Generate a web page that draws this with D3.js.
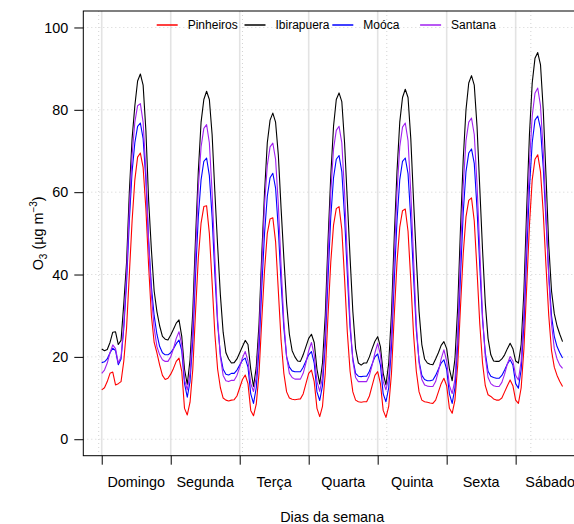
<!DOCTYPE html>
<html>
<head>
<meta charset="utf-8">
<script src="https://cdn.jsdelivr.net/npm/d3@7"></script>
<style>
  body { margin: 0; background: #fff; }
  text { font-family: "Liberation Sans", Arial, sans-serif; }
</style>
</head>
<body>
<svg id="chart" width="574" height="524"></svg>
<script>
// hourly means (0..167, Sunday 00h to Saturday 23h)
const pinheiros = [
  12.0, 12.5, 14.0, 16.0, 16.3, 13.2, 13.5, 14.0, 19.0, 27.0, 40.0, 53.0, 63.0, 68.5, 69.5, 66.0, 56.0, 42.0, 30.0, 23.5, 21.0, 18.0, 15.5, 14.5,
  14.8, 15.8, 17.2, 18.9, 19.7, 16.5, 7.5, 5.9, 9.0, 17.0, 31.0, 44.0, 52.5, 56.5, 56.7, 50.0, 38.0, 25.5, 17.0, 12.5, 10.0, 9.5, 9.3, 9.5,
  9.6, 10.5, 12.5, 14.5, 15.6, 13.5, 7.0, 5.7, 8.5, 16.0, 29.0, 41.0, 50.0, 53.5, 53.8, 48.0, 36.0, 24.0, 16.0, 11.5, 10.0, 9.7, 9.6, 9.7,
  9.8, 11.0, 13.5, 16.0, 16.8, 14.0, 7.5, 5.5, 8.0, 16.0, 30.0, 43.0, 52.0, 56.0, 56.5, 51.0, 39.0, 26.0, 16.5, 11.5, 9.5, 9.1, 9.0, 9.1,
  9.1, 10.5, 13.0, 15.5, 16.4, 13.5, 7.0, 5.3, 8.0, 16.0, 30.0, 43.0, 51.5, 55.5, 55.9, 50.5, 38.5, 25.5, 16.5, 11.5, 9.5, 9.1, 9.0, 8.8,
  8.7, 9.5, 11.5, 13.5, 14.8, 13.0, 7.5, 6.3, 9.5, 18.0, 32.0, 45.0, 54.0, 58.0, 58.6, 53.0, 41.0, 28.0, 18.5, 13.0, 10.8, 10.4, 9.8, 9.5,
  9.5, 10.0, 11.5, 13.0, 14.4, 13.0, 9.5, 8.7, 12.5, 22.0, 37.0, 52.0, 63.0, 68.0, 69.1, 65.0, 55.0, 42.0, 30.0, 21.5, 17.5, 15.5, 14.0, 12.8
];
const ibirapuera = [
  21.9, 21.5, 21.8, 23.5, 26.0, 26.1, 23.0, 24.0, 33.0, 43.0, 60.0, 73.0, 81.0, 87.0, 88.7, 86.0, 75.0, 58.0, 46.0, 36.0, 31.0, 27.5, 25.0, 24.3,
  24.1, 25.3, 26.7, 28.2, 29.0, 25.0, 17.0, 13.3, 19.3, 31.0, 49.0, 65.0, 77.0, 82.5, 84.5, 82.5, 74.0, 60.0, 47.0, 35.0, 26.0, 21.0, 19.5, 18.5,
  18.6, 19.5, 21.0, 22.5, 24.0, 23.0, 17.0, 12.8, 17.5, 28.0, 45.0, 60.0, 72.0, 77.5, 79.2, 77.0, 69.0, 56.0, 44.0, 33.0, 25.5, 21.5, 20.0, 19.0,
  18.9, 20.5, 22.5, 24.5, 25.5, 23.5, 17.0, 13.4, 18.5, 30.0, 48.0, 64.0, 76.0, 82.5, 84.1, 82.0, 72.0, 58.0, 44.0, 31.0, 22.0, 18.5, 18.0, 18.5,
  18.5, 20.0, 22.0, 23.8, 24.9, 22.5, 16.0, 13.2, 18.5, 30.5, 49.0, 65.0, 77.0, 83.0, 85.0, 83.0, 73.0, 58.0, 44.0, 31.0, 23.0, 19.5, 18.5, 18.2,
  18.1, 19.5, 21.0, 22.8, 23.7, 22.0, 17.0, 14.2, 19.5, 32.0, 51.0, 68.0, 80.0, 86.5, 88.3, 86.0, 76.0, 61.0, 46.0, 33.0, 24.5, 20.5, 19.0, 18.9,
  18.9, 19.5, 20.5, 22.0, 23.3, 22.0, 19.0, 18.5, 23.0, 36.0, 56.0, 74.0, 86.5, 92.5, 93.9, 91.0, 80.0, 64.0, 47.0, 36.0, 30.5, 27.5, 25.5, 23.7
];
const mooca = [
  18.6, 18.8, 19.5, 21.0, 22.1, 21.5, 18.1, 19.5, 27.0, 38.0, 53.0, 65.0, 72.0, 76.0, 76.8, 73.0, 63.0, 48.0, 37.0, 30.0, 25.5, 22.5, 21.0, 20.5,
  20.5, 21.0, 22.0, 23.2, 24.1, 21.5, 13.5, 10.2, 14.0, 24.0, 40.0, 54.0, 63.0, 67.5, 68.3, 64.0, 54.0, 40.0, 28.0, 20.5, 17.0, 15.8, 15.6, 16.0,
  16.0, 16.8, 18.0, 19.2, 19.7, 17.5, 11.0, 8.7, 12.5, 22.0, 37.0, 50.0, 59.0, 63.5, 64.6, 61.0, 51.0, 38.0, 27.0, 20.0, 17.5, 16.6, 16.4, 16.4,
  16.4, 17.5, 19.0, 20.5, 21.3, 18.5, 11.5, 9.4, 13.0, 23.0, 39.0, 54.0, 63.5, 68.0, 68.9, 65.0, 54.0, 40.0, 27.0, 19.5, 16.0, 15.3, 15.2, 15.3,
  15.3, 16.5, 18.3, 20.0, 20.7, 18.0, 11.0, 9.1, 12.5, 22.5, 38.5, 53.0, 63.0, 67.5, 68.3, 64.5, 53.5, 39.5, 26.5, 19.0, 15.5, 14.5, 14.2, 14.2,
  14.4, 15.5, 17.0, 18.5, 19.3, 17.0, 11.0, 8.7, 12.5, 23.0, 39.5, 55.0, 65.0, 69.5, 70.5, 67.0, 56.0, 42.0, 29.0, 21.0, 16.5, 15.3, 15.0, 14.8,
  14.8, 15.5, 16.8, 18.3, 19.3, 18.0, 13.5, 12.4, 17.0, 28.0, 45.0, 61.0, 72.0, 77.5, 78.5, 75.5, 66.0, 53.0, 40.0, 30.0, 25.0, 22.5, 21.0, 19.7
];
const santana = [
  16.0, 16.8, 18.5, 21.0, 22.9, 22.0, 18.5, 20.0, 28.0, 40.0, 56.0, 69.0, 77.0, 81.0, 81.5, 77.0, 65.0, 48.0, 35.0, 27.0, 22.5, 20.5, 19.3, 18.9,
  18.9, 20.0, 22.0, 24.5, 26.1, 23.0, 14.5, 12.0, 16.0, 27.0, 45.0, 61.0, 71.0, 75.5, 76.4, 72.0, 60.0, 44.0, 29.0, 20.0, 15.5, 14.2, 14.0, 14.3,
  14.3, 15.5, 17.5, 19.8, 21.3, 19.0, 13.5, 11.6, 15.0, 25.0, 42.0, 57.0, 66.5, 71.0, 71.9, 68.0, 57.0, 42.0, 28.5, 20.0, 16.0, 15.0, 14.6, 14.6,
  14.6, 16.0, 18.5, 21.5, 23.5, 20.5, 14.0, 11.6, 15.0, 25.5, 44.0, 60.0, 70.5, 75.0, 76.0, 72.0, 60.0, 44.0, 28.5, 19.0, 15.0, 14.0, 14.0, 14.0,
  14.0, 15.5, 18.0, 21.0, 23.3, 20.5, 14.0, 12.0, 15.0, 25.5, 44.0, 60.0, 71.0, 75.8, 76.8, 72.5, 60.0, 44.0, 28.0, 18.5, 14.5, 13.2, 12.9, 12.8,
  12.8, 14.0, 16.5, 19.5, 21.7, 19.0, 13.0, 11.1, 14.5, 25.5, 45.0, 61.5, 72.5, 77.0, 78.0, 74.0, 62.0, 46.0, 30.0, 20.0, 15.0, 13.5, 13.0, 12.8,
  12.8, 13.8, 15.8, 18.3, 20.1, 19.0, 15.5, 14.4, 19.0, 31.0, 50.0, 67.0, 78.5, 84.0, 85.3, 81.0, 70.0, 55.0, 39.0, 28.0, 22.0, 19.5, 18.0, 17.2
];

const stations = ["Pinheiros", "Ibirapuera", "Moóca", "Santana"];
const colors = ["#ff0000", "#000000", "#0000ff", "#a020f0"];
const days = ["Domingo", "Segunda", "Terça", "Quarta", "Quinta", "Sexta", "Sábado"];
const dayTicks = [0, 25, 50, 75, 100, 125, 150];
const gridX = [-1.1, 51, 103.3, 155.5];
const yTicks = [0, 20, 40, 60, 80, 100];

const svg = d3.select("#chart"),
      margin = {top: 11, left: 83.3, right: 581, bottom: 455.7};

const x = d3.scaleLinear().domain([-6.68, 173.68]).range([margin.left, margin.right]);
const y = d3.scaleLinear().domain([-4, 104]).range([margin.bottom, margin.top]);

// light grey day lines
svg.append("g").selectAll("line")
  .data(dayTicks).join("line")
    .attr("x1", d => x(d)).attr("x2", d => x(d))
    .attr("y1", margin.top).attr("y2", margin.bottom)
    .attr("stroke", "#e3e3e3").attr("stroke-width", 1.6);

// dotted grid
svg.append("g").selectAll("line")
  .data(gridX).join("line")
    .attr("x1", d => x(d)).attr("x2", d => x(d))
    .attr("y1", margin.top).attr("y2", margin.bottom)
    .attr("stroke", "#d3d3d3").attr("stroke-dasharray", "1,3");
svg.append("g").selectAll("line")
  .data(yTicks).join("line")
    .attr("x1", margin.left).attr("x2", margin.right)
    .attr("y1", d => y(d)).attr("y2", d => y(d))
    .attr("stroke", "#d3d3d3").attr("stroke-dasharray", "1,3");

// series
const series = [pinheiros, ibirapuera, mooca, santana];
const line = d3.line().x((d, i) => x(i)).y(d => y(d));
series.forEach((s, k) => {
  svg.append("path")
    .datum(s)
    .attr("d", line)
    .attr("fill", "none")
    .attr("stroke", colors[k])
    .attr("stroke-width", 1.1)
    .attr("stroke-linejoin", "round");
});

// box
svg.append("rect")
  .attr("x", margin.left).attr("y", margin.top)
  .attr("width", margin.right - margin.left).attr("height", margin.bottom - margin.top)
  .attr("fill", "none").attr("stroke", "#000").attr("stroke-width", 1);

// x axis
const xAxis = d3.axisBottom(x).tickValues(dayTicks).tickSize(9).tickFormat("");
svg.append("g")
  .attr("transform", `translate(0,${margin.bottom})`)
  .call(xAxis)
  .call(g => g.select(".domain").remove());

svg.append("g").selectAll("text")
  .data(days).join("text")
    .attr("x", (d, i) => x(dayTicks[i] + 12.5))
    .attr("y", 486.5)
    .attr("text-anchor", "middle")
    .attr("font-size", 14.4)
    .text(d => d);

// y axis
const yAxis = d3.axisLeft(y).tickValues(yTicks).tickSize(9).tickPadding(6);
svg.append("g")
  .attr("transform", `translate(${margin.left},0)`)
  .call(yAxis)
  .call(g => g.select(".domain").remove())
  .call(g => g.selectAll("text")
    .attr("font-size", 14.4)
    .attr("font-family", "Liberation Sans, Arial, sans-serif")
    .attr("fill", "#000"));

// axis titles
svg.append("text")
  .attr("x", (margin.left + margin.right) / 2)
  .attr("y", 522)
  .attr("text-anchor", "middle")
  .attr("font-size", 14.4)
  .text("Dias da semana");

const ylab = svg.append("text")
  .attr("transform", `translate(43,${(margin.top + margin.bottom) / 2}) rotate(-90)`)
  .attr("text-anchor", "middle")
  .attr("font-size", 14.4);
ylab.append("tspan").text("O");
ylab.append("tspan").attr("font-size", 10).attr("dy", 4).text("3");
ylab.append("tspan").attr("dy", -4).text(" (µg m");
ylab.append("tspan").attr("font-size", 10).attr("dy", -6).text("−3");
ylab.append("tspan").attr("dy", 6).text(")");

// legend
const legend = svg.append("g");
stations.forEach((name, i) => {
  const lx = 156.7 + i * 87.8;
  legend.append("line")
    .attr("x1", lx).attr("x2", lx + 21)
    .attr("y1", 25).attr("y2", 25)
    .attr("stroke", colors[i]).attr("stroke-width", 1.5);
  legend.append("text")
    .attr("x", lx + 31).attr("y", 29.3)
    .attr("font-size", 12)
    .text(name);
});
</script>
</body>
</html>
